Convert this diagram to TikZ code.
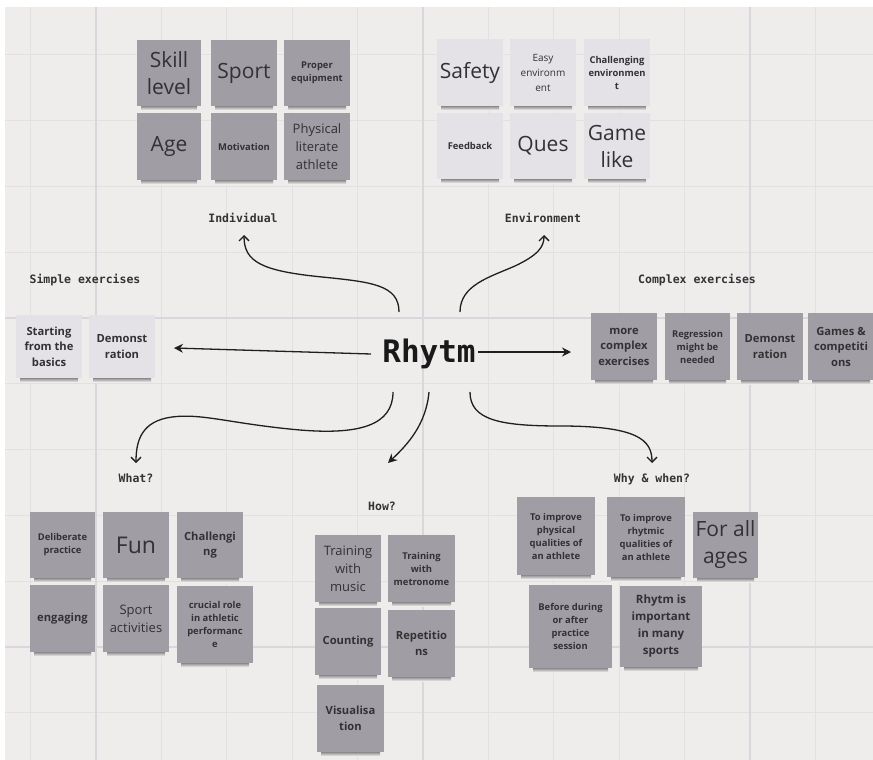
\documentclass[tikz,border=0pt]{standalone}
\usepackage{fontspec}
\setmainfont{Open Sans}
\newfontfamily\monof{DejaVu Sans Mono}
\usetikzlibrary{arrows.meta}
\definecolor{bgc}{HTML}{EFECEC}
\definecolor{gridc}{HTML}{E4E0E2}
\definecolor{majc}{HTML}{DAD6DB}
\definecolor{dk}{HTML}{A09EA4}
\definecolor{lt}{HTML}{E4E2E6}
\definecolor{txt}{HTML}{323134}
\tikzset{
  note/.style={inner sep=0pt, align=center, text=txt},
  big/.style={font=\fontsize{21}{27}\selectfont},
  med/.style={font=\fontsize{13}{18}\selectfont},
  medsm/.style={font=\fontsize{10}{15}\selectfont},
  bsm/.style={font=\bfseries\fontsize{9.4}{13}\selectfont},
  bmd/.style={font=\bfseries\fontsize{11.2}{15.5}\selectfont},
  lbl/.style={font=\monof\bfseries\fontsize{11.5}{12}\selectfont, text=black!80, anchor=base, inner sep=0pt},
  arr/.style={line width=1.3pt, draw=black!88},
  openarr/.style={arr, -{Straight Barb[length=5pt,width=10pt]}},
  fillarr/.style={arr, -{Stealth[length=9pt,width=9pt]}},
}
\newcommand\stk[7]{%
  \shade[top color=black!65, bottom color=bgc] ({#2+4},{#5-2}) rectangle ({#4-4},{#5+4});
  \node[note,#6,minimum width={(#4-#2)*1pt},minimum height={(#5-#3)*1pt}] (#1) at ({(#2+#4)/2},{(#3+#5)/2}) {#7};
}
\begin{document}
\begin{tikzpicture}[x=1pt,y=-1pt]
\useasboundingbox (0,0) rectangle (873,760);
\fill[white] (0,0) rectangle (873,760);
\fill[bgc] (5,7) rectangle (873,760);
% grid
\foreach \k in {0,...,12} \draw[gridc, line width=1pt] ({30.7+65.4*\k},7) -- ({30.7+65.4*\k},760);
\foreach \k in {0,...,10} \draw[gridc, line width=1pt] (5,{54.8+65.8*\k}) -- (873,{54.8+65.8*\k});
\foreach \k in {1,6,11} \draw[majc, line width=1.3pt] ({30.7+65.4*\k},7) -- ({30.7+65.4*\k},760);
\foreach \k in {4,9} \draw[majc, line width=1.3pt] (5,{54.8+65.8*\k}) -- (873,{54.8+65.8*\k});

% Individual
\stk{sk}{137}{40}{201}{106}{fill=dk,big}{Skill\\level}
\stk{sp}{211}{40}{277}{106}{fill=dk,big}{Sport}
\stk{pe}{284}{40}{350}{106}{fill=dk,bsm}{Proper\\equipment}
\stk{ag}{137}{113}{201}{180}{fill=dk,big}{Age}
\stk{mo}{211}{113}{277}{180}{fill=dk,bsm}{Motivation}
\stk{pl}{284}{113}{350}{180}{fill=dk,med}{Physical\\literate\\athlete}
% Environment
\stk{sa}{437}{39}{503}{106}{fill=lt,big}{Safety}
\stk{ee}{510}{39}{576}{106}{fill=lt,medsm}{Easy\\environm\\ent}
\stk{ce}{584}{39}{650}{106}{fill=lt,bsm}{Challenging\\environmen\\t}
\stk{fb}{437}{113}{503}{179}{fill=lt,bsm}{Feedback}
\stk{qu}{510}{113}{576}{179}{fill=lt,big}{Ques}
\stk{gl}{584}{113}{650}{179}{fill=lt,big}{Game\\like}
% Simple exercises
\stk{sb}{16}{315}{82}{378}{fill=lt,bmd}{Starting\\from the\\basics}
\stk{da}{89}{315}{155}{378}{fill=lt,bmd}{Demonst\\ration}
% Complex exercises
\stk{mc}{591}{313}{657}{380}{fill=dk,bmd}{more\\complex\\exercises}
\stk{rg}{665}{313}{730}{380}{fill=dk,bsm}{Regression\\might be\\needed}
\stk{db}{737}{313}{803}{380}{fill=dk,bmd}{Demonst\\ration}
\stk{gc}{808}{313}{874}{380}{fill=dk,bmd}{Games \&\\competiti\\ons}
% What?
\stk{dp}{30}{512}{95}{578}{fill=dk,bsm}{Deliberate\\practice}
\stk{fu}{103}{512}{169}{578}{fill=dk,font=\fontsize{23}{28}\selectfont}{Fun}
\stk{ch}{177}{512}{243}{578}{fill=dk,bmd}{Challengi\\ng}
\stk{en}{30}{585}{95}{652}{fill=dk,bmd}{engaging}
\stk{sa2}{103}{585}{169}{652}{fill=dk,med}{Sport\\activities}
\stk{cr}{177}{586}{253}{663}{fill=dk,bsm}{crucial role\\in athletic\\performanc\\e}
% How?
\stk{tm}{315}{535}{381}{602}{fill=dk,med}{Training\\with\\music}
\stk{tr}{388}{535}{455}{602}{fill=dk,bsm}{Training\\with\\metronome}
\stk{co}{315}{608}{381}{675}{fill=dk,bmd}{Counting}
\stk{re}{388}{610}{455}{677}{fill=dk,bmd}{Repetitio\\ns}
\stk{vi}{317}{685}{384}{752}{fill=dk,bmd}{Visualisa\\tion}
% Why & when?
\stk{ip}{517}{497}{595}{575}{fill=dk,bsm}{To improve\\physical\\qualities of\\an athlete}
\stk{ir}{607}{497}{685}{577}{fill=dk,bsm}{To improve\\rhytmic\\qualities of\\an athlete}
\stk{fa}{693}{512}{758}{578}{fill=dk,big}{For all\\ages}
\stk{bd}{529}{585}{612}{668}{fill=dk,bsm}{Before during\\or after\\practice\\session}
\stk{ri}{620}{586}{702}{667}{fill=dk,font=\bfseries\fontsize{11.5}{17}\selectfont}{Rhytm is\\important\\in many\\sports}

% labels
\node[lbl] (lind) at (243,222) {Individual};
\node[lbl] (lenv) at (543,222) {Environment};
\node[lbl] (lsim) at (85,283) {Simple exercises};
\node[lbl] (lcom) at (697,283) {Complex exercises};
\node[lbl] (lwha) at (136,482) {What?};
\node[lbl] (lhow) at (382,510) {How?};
\node[lbl] (lwhy) at (652,482) {Why \& when?};
\node[font=\monof\bfseries\fontsize{31}{32}\selectfont, text=black!90, anchor=base, inner sep=0pt] (rh) at (429,362) {Rhytm};

% connector ends
\coordinate (s1) at (399,312); \coordinate (e1) at (244,235);
\coordinate (s2) at (460,312); \coordinate (e2) at (544,235);
\coordinate (s3) at (371,354); \coordinate (e3) at (174,348);
\coordinate (s4) at (478,352); \coordinate (e4) at (571,352);
\coordinate (s5) at (393,392); \coordinate (e5) at (136,463);
\coordinate (s6) at (429,392); \coordinate (e6) at (388,463);
\coordinate (s7) at (470,392); \coordinate (e7) at (652,463);

\draw[openarr] (s1) .. controls (399,285) and (372,282) .. (322,277) .. controls (262,271) and (244,262) .. (e1);
\draw[openarr] (s2) .. controls (460,285) and (490,277) .. (515,266) .. controls (538,255) and (544,247) .. (e2);
\draw[fillarr] (s3) -- (e3);
\draw[fillarr] (s4) -- (e4);
\draw[openarr] (s5) .. controls (393,425) and (360,435) .. (300,430) .. controls (232,424) and (202,413) .. (172,417) .. controls (142,421) and (136,440) .. (e5);
\draw[fillarr] (s6) .. controls (426,425) and (407,445) .. (e6);
\draw[openarr] (s7) .. controls (470,420) and (500,426) .. (560,426) .. controls (638,426) and (652,440) .. (e7);
\end{tikzpicture}
\end{document}
